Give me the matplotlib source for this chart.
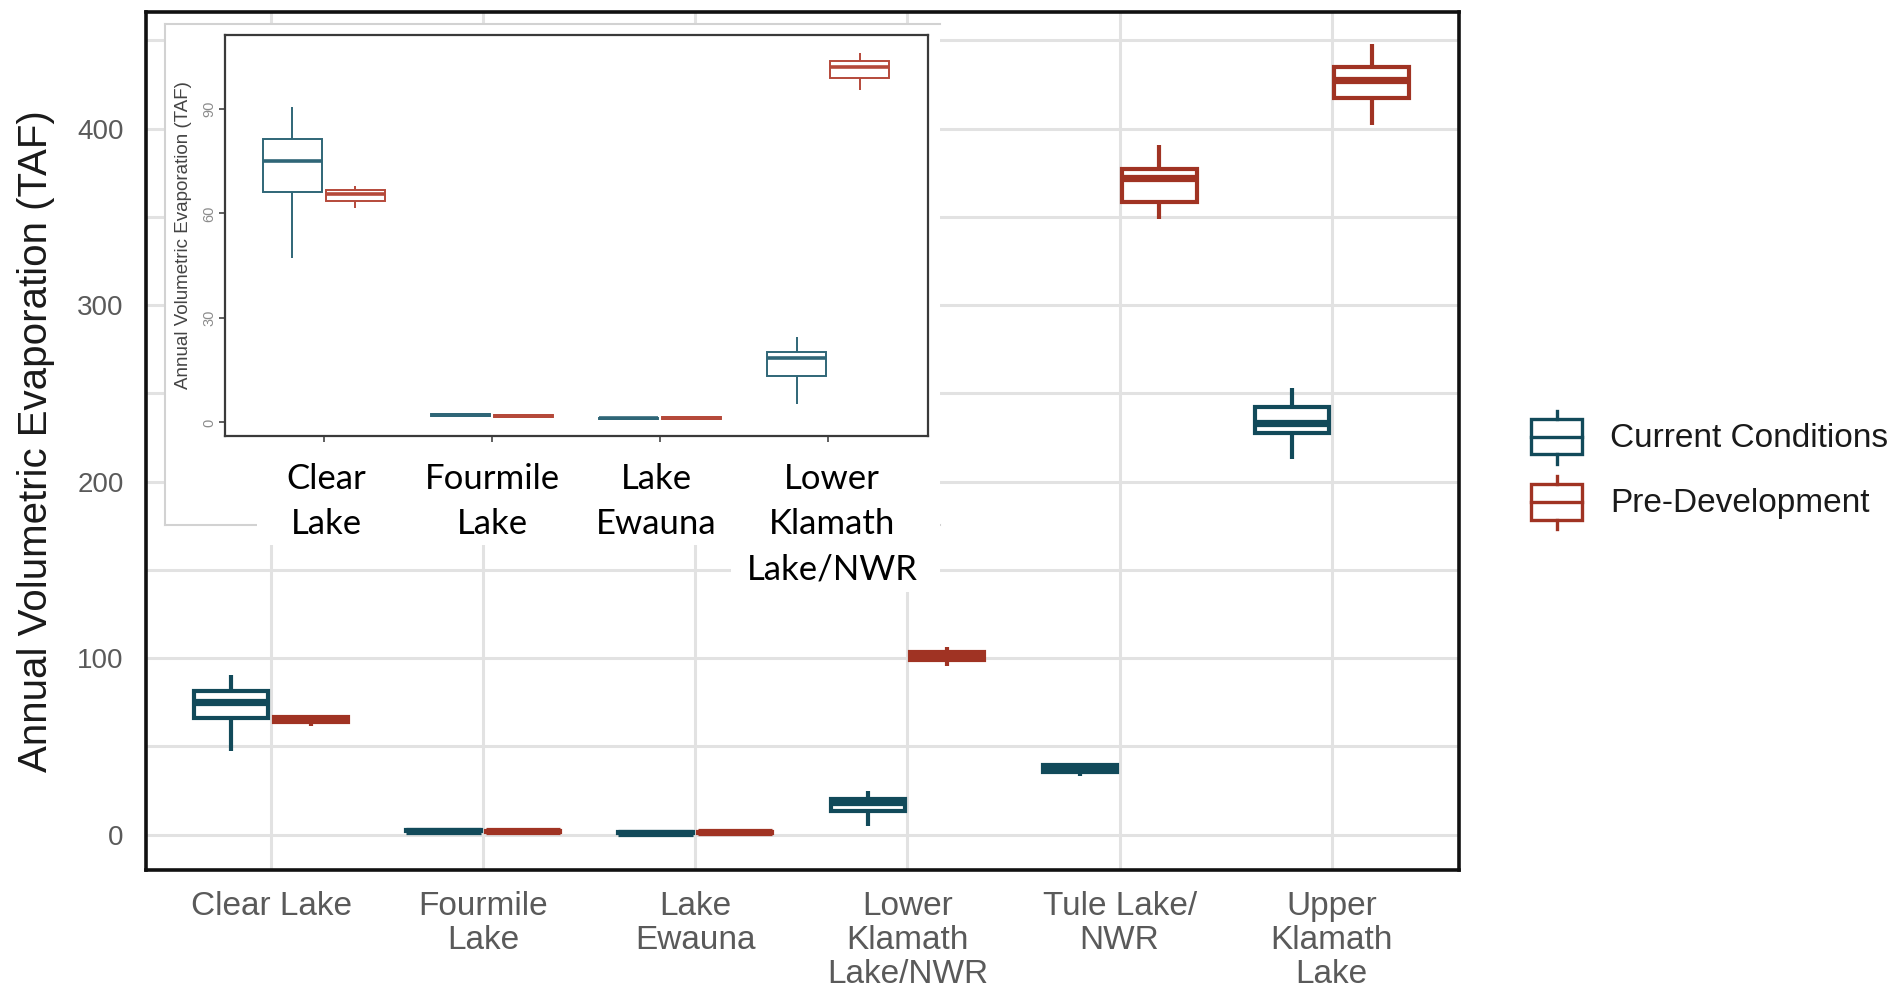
import matplotlib.pyplot as plt
from matplotlib.patches import Rectangle
from matplotlib.lines import Line2D
import numpy as np

W, H = 1894, 988

lakes = ["Clear Lake", "Fourmile\nLake", "Lake\nEwauna", "Lower\nKlamath\nLake/NWR",
         "Tule Lake/\nNWR", "Upper\nKlamath\nLake"]
inset_lakes = ["Clear\nLake", "Fourmile\nLake", "Lake\nEwauna", "Lower\nKlamath\nLake/NWR"]

# box statistics (TAF)
cur_whislo = [47.2, 1.6, 0.7, 5.2, 33.0, 213.0]
cur_q1 = [66.1, 1.9, 0.9, 13.4, 35.5, 227.6]
cur_med = [75.0, 2.15, 1.13, 18.5, 37.3, 233.0]
cur_q3 = [81.3, 2.4, 1.35, 20.3, 39.2, 242.2]
cur_whishi = [90.7, 2.7, 1.5, 24.6, 40.8, 253.0]

pre_whislo = [61.6, 1.4, 0.9, 95.4, 349.0, 402.0]
pre_q1 = [63.7, 1.65, 1.1, 98.9, 358.2, 417.1]
pre_med = [65.6, 1.86, 1.33, 102.0, 371.8, 427.3]
pre_q3 = [66.6, 2.05, 1.55, 103.7, 377.1, 435.1]
pre_whishi = [68.0, 2.3, 1.75, 106.1, 390.8, 447.6]

series_names = ["Current Conditions", "Pre-Development"]

TEAL, RED = "#124a5a", "#a03323"
TEAL_L, RED_L = "#2f6677", "#b5493a"


def stats(lo, q1, med, q3, hi, n):
    return [dict(whislo=lo[i], q1=q1[i], med=med[i], q3=q3[i], whishi=hi[i], fliers=[])
            for i in range(n)]


def fr(x0, y0, x1, y1):
    return [x0 / W, 1 - y1 / H, (x1 - x0) / W, (y1 - y0) / H]


def draw_boxes(ax, n, colors, lw, mlw):
    sets = [stats(cur_whislo, cur_q1, cur_med, cur_q3, cur_whishi, n),
            stats(pre_whislo, pre_q1, pre_med, pre_q3, pre_whishi, n)]
    x = np.arange(1, n + 1)
    for k, (st, c) in enumerate(zip(sets, colors)):
        ax.bxp(st, positions=x + (k - 0.5) * 0.375, widths=0.35, patch_artist=True,
               showcaps=False, showfliers=False, manage_ticks=False,
               boxprops=dict(facecolor="white", edgecolor=c, linewidth=lw),
               whiskerprops=dict(color=c, linewidth=lw, solid_capstyle="butt"),
               medianprops=dict(color=c, linewidth=mlw, solid_capstyle="butt"))


plt.rcParams["font.family"] = ["Liberation Sans", "DejaVu Sans"]
fig = plt.figure(figsize=(W / 100, H / 100), dpi=100)

# ---- main chart
ax = fig.add_axes(fr(146, 12, 1459, 870))
draw_boxes(ax, 6, [TEAL, RED], 3.0, 5.2)
ax.set_xlim(0.41, 6.6)
ax.set_ylim(-20, 466)
ax.set_yticks([0, 100, 200, 300, 400])
ax.set_yticks([50, 150, 250, 350, 450], minor=True)
ax.set_xticks(np.arange(1, 7))
ax.set_xticklabels(lakes, linespacing=1.12)
ax.grid(True, which="both", color="#e2e2e2", lw=2.2)
ax.set_axisbelow(True)
ax.tick_params(which="both", length=0)
ax.tick_params(axis="y", labelsize=20, labelcolor="#5a5a5a", pad=16)
ax.tick_params(axis="x", labelsize=24, labelcolor="#5a5a5a", pad=15)
for s in ax.spines.values():
    s.set_linewidth(2.6)
    s.set_color("#111111")
fig.text(36 / W, 1 - 441 / H, "Annual Volumetric Evaporation (TAF)", rotation=90,
         ha="center", va="center", fontsize=29, color="#1a1a1a")

# ---- pasted inset background
fig.patches.append(Rectangle((165 / W, 1 - 525 / H), 775 / W, 501 / H,
                             transform=fig.transFigure, fc="white", ec="none", zorder=1))
for xs, ys in [((165, 165), (24, 525)), ((165, 940), (24, 24)), ((165, 940), (525, 525))]:
    fig.lines.append(Line2D([x / W for x in xs], [1 - y / H for y in ys],
                            transform=fig.transFigure, color="#d2d2d2", lw=1.5, zorder=1.1))
for x0, y0, x1, y1 in [(257, 436, 940, 545), (731, 436, 940, 592)]:
    fig.patches.append(Rectangle((x0 / W, 1 - y1 / H), (x1 - x0) / W, (y1 - y0) / H,
                                 transform=fig.transFigure, fc="white", ec="none", zorder=1.2))

# ---- inset chart
axi = fig.add_axes(fr(225, 35, 928, 436), zorder=2)
draw_boxes(axi, 4, [TEAL_L, RED_L], 1.4, 2.6)
axi.set_xlim(0.411, 4.595)
axi.set_ylim(-3.9, 111.25)
axi.set_yticks([0, 30, 60, 90])
axi.set_xticks(np.arange(1, 5))
axi.set_xticklabels([])
axi.tick_params(length=4, width=1.2, color="#444444")
axi.tick_params(axis="y", labelsize=10.5, labelcolor="#8c8c8c", pad=2, labelrotation=90)
for lab in axi.get_yticklabels():
    lab.set_va("center")
for s in axi.spines.values():
    s.set_linewidth(1.6)
    s.set_color("#3a3a3a")
fig.text(183 / W, 1 - 235 / H, "Annual Volumetric Evaporation (TAF)", rotation=90,
         ha="center", va="center", fontsize=13.5, color="#444444")

inset_x = [326, 492, 656, 832]
for xx, lab in zip(inset_x, inset_lakes):
    fig.text(xx / W, 1 - 463 / H, lab, ha="center", va="top", fontsize=25,
             family=["Lato", "DejaVu Sans"], color="black", linespacing=1.5, zorder=3)

# ---- legend
axl = fig.add_axes([0, 0, 1, 1], zorder=3)
axl.set_xlim(0, W)
axl.set_ylim(H, 0)
axl.axis("off")
for (yb0, yb1, yw0, yw1, yt), c, name in zip([(419, 454, 411, 464, 438), (484, 520, 476, 529, 503)],
                                             [TEAL, RED], series_names):
    axl.add_patch(Rectangle((1531, yb0), 51, yb1 - yb0, fc="white", ec=c, lw=2.4))
    axl.plot([1531, 1582], [(yb0 + yb1) / 2] * 2, color=c, lw=2.4)
    axl.plot([1556.5, 1556.5], [yw0, yb0], color=c, lw=2.4)
    axl.plot([1556.5, 1556.5], [yb1, yw1], color=c, lw=2.4)
    axl.text(1610, yt, name, ha="left", va="center", fontsize=24, color="#1a1a1a")

fig.savefig("out.png", dpi=100)
